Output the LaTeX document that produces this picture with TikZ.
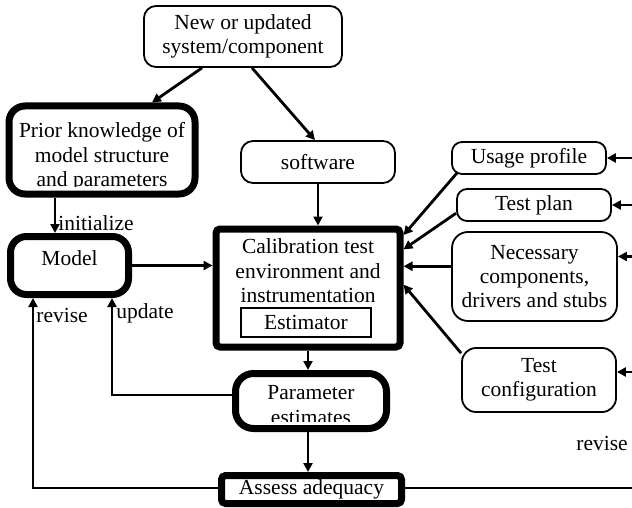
\documentclass[tikz,border=0pt]{standalone}
\usepackage{fontspec}
\setmainfont{Liberation Serif}
\usetikzlibrary{arrows.meta,calc}
\tikzset{
	thinbox/.style={draw, line width=0.9pt, rounded corners=6pt, align=center, inner sep=0pt},
	thickbox/.style={draw, line width=3.5pt, rounded corners=8pt, align=center, inner sep=0pt},
	arr/.style={line width=1.4pt, -{Triangle[length=4.5pt,width=4.5pt]}},
	backarr/.style={line width=1pt, -{Triangle[length=4.5pt,width=4.5pt]}},
	lbl/.style={inner sep=0pt, align=center}
}
\begin{document}
\begin{tikzpicture}[x=0.5pt, y=-0.5pt, font=\fontsize{10.75pt}{12.2pt}\selectfont]
				\useasboundingbox (0,0) rectangle (632,508);
				% boxes
				\node[thinbox, minimum width=99pt, minimum height=30.5pt] (new) at (243,36.5) {New or updated\\system/component};
				\node[thickbox, minimum width=93pt, minimum height=44pt] (prior) at (102,150) {};
				\node[thinbox, minimum width=77pt, minimum height=21pt] (software) at (318,162) {software};
				\node[thickbox, minimum width=59pt, minimum height=29pt] (model) at (69.5,265.5) {};
				\node[thickbox, rounded corners=2pt, minimum width=92pt, minimum height=59pt] (calib) at (308,288) {};
				\node[draw, line width=0.75pt, inner sep=0pt, minimum width=65pt, minimum height=14.5pt] (estimator) at (306,322.5) {Estimator};
				\node[thickbox, rounded corners=9pt, minimum width=75.5pt, minimum height=27.5pt] (param) at (311,401) {};
				\node[thickbox, rounded corners=2pt, minimum width=90pt, minimum height=14pt] (assess) at (311.5,489.5) {Assess adequacy};
				\node[thinbox, rounded corners=5pt, minimum width=77pt, minimum height=16pt] (usage) at (529,158) {Usage profile};
				\node[thinbox, rounded corners=5pt, minimum width=77pt, minimum height=16pt] (plan) at (534,205) {Test plan};
				\node[thinbox, rounded corners=8pt, minimum width=82.5pt, minimum height=44.5pt] (nec) at (534.5,276.5) {Necessary\\components,\\drivers and stubs};
				\node[thinbox, rounded corners=7pt, minimum width=77pt, minimum height=32pt] (config) at (539,380) {Test\\configuration};
				% texts in the boxes
				\node[lbl] (modeltext) at (69.5,258) {Model};
				\node[lbl] (calibtext) at (308,271) {Calibration test\\environment and\\instrumentation};
				\begin{scope}
					\clip (0,100) rectangle (200,186.5);
					\node[lbl] (priortext) at (102,157) {Prior knowledge of\\model structure\\and parameters};
				\end{scope}
				\begin{scope}
					\clip (230,370) rectangle (392,421.7);
					\node[lbl] (paramtext) at (311,405) {Parameter\\estimates};
				\end{scope}
				% labels
				\node[lbl, anchor=west] (initialize) at (58,223) {initialize};
				\node[lbl, anchor=west] (revise) at (36,315) {revise};
				\node[lbl, anchor=west] (update) at (116,313) {update};
				\node[lbl, anchor=west] (reviseright) at (576,443) {revise};
				% helper coordinates
				\coordinate (initx) at (55,0);
				\coordinate (updx) at (112,0);
				\coordinate (revx) at (33,0);
				\coordinate (redge) at (632,0);
				% connectors
				\draw[arr] ($(new.south)+(-41,0)$) -- ($(prior.north)+(50,0)$);
				\draw[arr] ($(new.south)+(9,0)$) -- ($(software.north)+(-3,0)$);
				\draw[arr] (prior.south -| initx) -- (model.north -| initx);
				\draw[arr] (software.south) -- (software.south |- calib.north);
				\draw[arr] (model.east) -- (model.east -| calib.west);
				\draw[arr] (calib.south) -- (calib.south |- param.north);
				\draw[arr] (param.south -| calib.south) -- (assess.north -| calib.south);
				\draw[backarr] ([yshift=3pt]param.west) -| (model.south -| updx);
				\draw[backarr] ([yshift=1pt]assess.west) -| (model.south -| revx);
				\draw[line width=1pt] ([yshift=1pt]assess.east) -- ([yshift=1pt]assess.east -| redge);
				\draw[arr] ($(usage.south west)+(6,-2)$) -- (calib.29);
				\draw[arr] (plan.186) -- (calib.22);
				\draw[arr] (nec.173) -- (nec.173 -| calib.east);
				\draw[arr] (config.161) -- (calib.2);
				\draw[arr] (usage.east -| redge) -- (usage.east);
				\draw[arr] (plan.east -| redge) -- (plan.east);
				\draw[arr] ($(nec.east)+(16,-20)$) -- ($(nec.east)+(0,-20)$);
				\draw[arr] ($(config.east)+(16,-8)$) -- ($(config.east)+(0,-8)$);
			\end{tikzpicture}
\end{document}
